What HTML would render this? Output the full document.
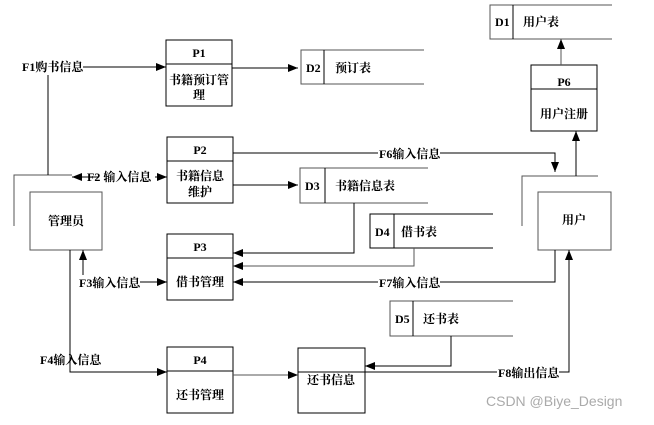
<!DOCTYPE html>
<html><head><meta charset="utf-8"><style>
body{margin:0;background:#fff}
svg text{font-family:"Liberation Serif","Noto Serif CJK SC",serif;font-size:12px;font-weight:bold;fill:#000}
</style></head><body>
<svg width="654" height="420" viewBox="0 0 654 420" xmlns="http://www.w3.org/2000/svg">
<defs><marker id="a" markerWidth="10" markerHeight="8" refX="10" refY="4" orient="auto" markerUnits="userSpaceOnUse"><path d="M0,0L10,4L0,8z" fill="#000"/></marker></defs>
<g fill="none" stroke="#000" stroke-width="1">
<!-- processes -->
<rect x="166" y="40" width="66" height="66"/><line x1="166" y1="64" x2="232" y2="64"/>
<rect x="167" y="137" width="66" height="66"/><line x1="167" y1="161" x2="233" y2="161"/>
<rect x="167" y="234" width="66" height="66"/><line x1="167" y1="258" x2="233" y2="258"/>
<rect x="167" y="347" width="66" height="66"/><line x1="167" y1="371" x2="233" y2="371"/>
<rect x="531" y="65" width="66" height="66"/><line x1="531" y1="89" x2="597" y2="89"/>
<rect x="298" y="348" width="67" height="65"/>
<!-- entities -->
<rect x="30" y="192" width="72" height="58" stroke="#555"/>
<rect x="538" y="192" width="73" height="58" stroke="#555"/>
<polyline points="14,226 14,175 72,175" stroke="#555"/>
<polyline points="522,226 522,176 598,176" stroke="#555"/>
<!-- stores -->
<polyline points="424,50 301,50 301,84 424,84" stroke="#555"/><line x1="324" y1="50" x2="324" y2="84"/>
<polyline points="428,168 300,168 300,203 428,203" stroke="#555"/><line x1="325" y1="168" x2="325" y2="203"/>
<polyline points="493,214 370,214 370,248 493,248"/><line x1="394" y1="214" x2="394" y2="248"/>
<polyline points="513,301 390,301 390,336 513,336" stroke="#555"/><line x1="413" y1="301" x2="413" y2="336"/>
<polyline points="612,5 490,5 490,39 612,39" stroke="#555"/><line x1="513" y1="5" x2="513" y2="39"/>
<!-- flows -->
<line x1="48" y1="75" x2="48" y2="175"/>
<line x1="83" y1="67" x2="166" y2="67" marker-end="url(#a)"/>
<line x1="232" y1="68" x2="298" y2="68" marker-end="url(#a)"/>
<line x1="99" y1="177" x2="72" y2="177" marker-end="url(#a)"/>
<line x1="155" y1="177" x2="167" y2="177" marker-end="url(#a)"/>
<polyline points="233,153 555,153 555,172" marker-end="url(#a)"/>
<line x1="233" y1="185" x2="298" y2="185" marker-end="url(#a)"/>
<polyline points="354,203 354,253 233,253" marker-end="url(#a)"/>
<polyline points="414,248 414,266 233,266" marker-end="url(#a)" stroke="#555"/>
<polyline points="555,250 555,282 233,282" marker-end="url(#a)"/>
<polyline points="576,176 576,131" marker-end="url(#a)"/>
<line x1="561" y1="65" x2="561" y2="39" marker-end="url(#a)" stroke="#555"/>
<line x1="83" y1="275" x2="83" y2="250" marker-end="url(#a)"/>
<line x1="140" y1="282" x2="167" y2="282" marker-end="url(#a)"/>
<polyline points="70,250 70,372 167,372" marker-end="url(#a)"/>
<line x1="233" y1="375" x2="298" y2="375" marker-end="url(#a)" stroke="#555"/>
<polyline points="451,336 451,366 365,366" marker-end="url(#a)"/>
<polyline points="298,372 569,372 569,250" marker-end="url(#a)"/>
</g>
<rect x="378" y="146" width="62" height="14" fill="#fff"/>
<rect x="378" y="276" width="62" height="14" fill="#fff"/>
<rect x="497" y="366" width="62" height="14" fill="#fff"/>
<g text-anchor="middle">
<text x="199" y="57">P1</text><text x="199" y="84">书籍预订管</text><text x="199" y="99">理</text>
<text x="200" y="154">P2</text><text x="200" y="180">书籍信息</text><text x="200" y="196">维护</text>
<text x="200" y="251">P3</text><text x="200" y="286">借书管理</text>
<text x="200" y="364">P4</text><text x="200" y="399">还书管理</text>
<text x="564" y="86">P6</text><text x="564" y="118">用户注册</text>
<text x="66" y="225">管理员</text><text x="574" y="224">用户</text>
<text x="331" y="384">还书信息</text>
</g>
<text x="306" y="72">D2</text><text x="335" y="72">预订表</text>
<text x="305" y="190">D3</text><text x="335" y="190">书籍信息表</text>
<text x="375" y="236">D4</text><text x="401" y="236">借书表</text>
<text x="395" y="323">D5</text><text x="423" y="323">还书表</text>
<text x="495" y="26">D1</text><text x="523" y="26">用户表</text>
<text x="22" y="71">F1购书信息</text>
<text x="87" y="181">F2 输入信息</text>
<text x="379" y="158">F6输入信息</text>
<text x="379" y="287">F7输入信息</text>
<text x="79" y="287">F3输入信息</text>
<text x="40" y="364">F4输入信息</text>
<text x="498" y="377">F8输出信息</text>
<text x="486" y="406" style="font-family:'Liberation Sans',sans-serif;font-weight:normal;font-size:14px;fill:#aaa">CSDN @Biye_Design</text>
</svg>
</body></html>
